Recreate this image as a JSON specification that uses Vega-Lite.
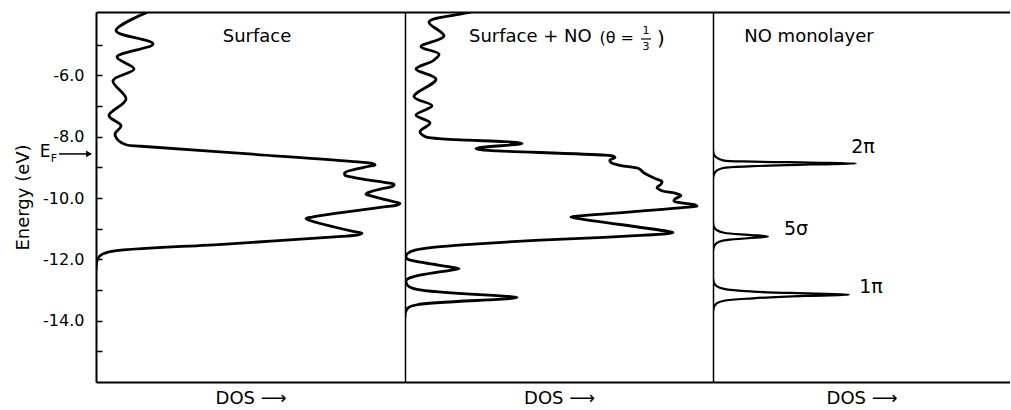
{
  "$schema": "https://vega.github.io/schema/vega-lite/v6.json",
  "padding": {"left": 14, "top": 12, "right": 0, "bottom": 0},
  "autosize": {"type": "pad"},
  "bounds": "flush",
  "spacing": 0,
  "background": "white",
  "config": {
    "view": {"stroke": null},
    "font": "DejaVu Sans",
    "axis": {"grid": false, "domainColor": "black", "tickColor": "black", "labelColor": "black", "titleColor": "black", "titleFontWeight": "normal"}
  },
  "datasets": {
    "surface": [
      {"dos": 52, "energy": -3.93}, {"dos": 20, "energy": -4.54}, {"dos": 57, "energy": -4.97}, {"dos": 21, "energy": -5.40},
      {"dos": 38, "energy": -5.79}, {"dos": 17, "energy": -6.17}, {"dos": 30, "energy": -6.77}, {"dos": 13, "energy": -7.31},
      {"dos": 25, "energy": -7.64}, {"dos": 19, "energy": -7.91}, {"dos": 23, "energy": -8.14}, {"dos": 30, "energy": -8.26},
      {"dos": 45, "energy": -8.31}, {"dos": 153, "energy": -8.56}, {"dos": 262, "energy": -8.82}, {"dos": 276, "energy": -8.87},
      {"dos": 279, "energy": -8.92}, {"dos": 272, "energy": -8.97}, {"dos": 258, "energy": -9.07}, {"dos": 249, "energy": -9.17},
      {"dos": 249, "energy": -9.25}, {"dos": 258, "energy": -9.33}, {"dos": 290, "energy": -9.50}, {"dos": 298, "energy": -9.55},
      {"dos": 297, "energy": -9.61}, {"dos": 288, "energy": -9.68}, {"dos": 274, "energy": -9.80}, {"dos": 270, "energy": -9.87},
      {"dos": 275, "energy": -9.93}, {"dos": 298, "energy": -10.12}, {"dos": 304, "energy": -10.18}, {"dos": 300, "energy": -10.24},
      {"dos": 290, "energy": -10.28}, {"dos": 216, "energy": -10.62}, {"dos": 210, "energy": -10.67}, {"dos": 214, "energy": -10.73},
      {"dos": 256, "energy": -11.08}, {"dos": 266, "energy": -11.15}, {"dos": 262, "energy": -11.20}, {"dos": 250, "energy": -11.24},
      {"dos": 130, "energy": -11.50}, {"dos": 12, "energy": -11.76}, {"dos": 4, "energy": -11.88}, {"dos": 1, "energy": -12.05},
      {"dos": 0, "energy": -12.35}
    ],
    "surfaceNO": [
      {"dos": 66, "energy": -3.93}, {"dos": 55, "energy": -4.00}, {"dos": 24, "energy": -4.26}, {"dos": 39, "energy": -4.71},
      {"dos": 16, "energy": -5.06}, {"dos": 34, "energy": -5.30}, {"dos": 28, "energy": -5.52}, {"dos": 11, "energy": -5.79},
      {"dos": 31, "energy": -6.12}, {"dos": 9, "energy": -6.69}, {"dos": 27, "energy": -6.99}, {"dos": 11, "energy": -7.29},
      {"dos": 25, "energy": -7.55}, {"dos": 15, "energy": -7.83}, {"dos": 20, "energy": -7.99}, {"dos": 34, "energy": -8.06},
      {"dos": 99, "energy": -8.16}, {"dos": 113, "energy": -8.19}, {"dos": 117, "energy": -8.22}, {"dos": 112, "energy": -8.25},
      {"dos": 76, "energy": -8.35}, {"dos": 71, "energy": -8.39}, {"dos": 77, "energy": -8.43}, {"dos": 92, "energy": -8.46},
      {"dos": 200, "energy": -8.60}, {"dos": 208, "energy": -8.63}, {"dos": 210, "energy": -8.68}, {"dos": 205, "energy": -8.76},
      {"dos": 206, "energy": -8.84}, {"dos": 216, "energy": -8.94}, {"dos": 234, "energy": -9.04}, {"dos": 239, "energy": -9.18},
      {"dos": 250, "energy": -9.36}, {"dos": 257, "energy": -9.46}, {"dos": 256, "energy": -9.55}, {"dos": 252, "energy": -9.66},
      {"dos": 257, "energy": -9.76}, {"dos": 270, "energy": -9.84}, {"dos": 276, "energy": -9.92}, {"dos": 270, "energy": -10.03},
      {"dos": 269, "energy": -10.10}, {"dos": 280, "energy": -10.17}, {"dos": 290, "energy": -10.22}, {"dos": 292, "energy": -10.26},
      {"dos": 286, "energy": -10.29}, {"dos": 172, "energy": -10.59}, {"dos": 166, "energy": -10.62}, {"dos": 172, "energy": -10.66},
      {"dos": 262, "energy": -11.08}, {"dos": 268, "energy": -11.12}, {"dos": 263, "energy": -11.16}, {"dos": 240, "energy": -11.21},
      {"dos": 199, "energy": -11.28}, {"dos": 130, "energy": -11.38}, {"dos": 69, "energy": -11.50}, {"dos": 30, "energy": -11.60},
      {"dos": 10, "energy": -11.70}, {"dos": 3, "energy": -11.80}, {"dos": 1, "energy": -11.88}, {"dos": 2, "energy": -11.98},
      {"dos": 10, "energy": -12.06}, {"dos": 48, "energy": -12.26}, {"dos": 54, "energy": -12.30}, {"dos": 48, "energy": -12.34},
      {"dos": 10, "energy": -12.55}, {"dos": 2, "energy": -12.65}, {"dos": 1, "energy": -12.74}, {"dos": 3, "energy": -12.86},
      {"dos": 12, "energy": -12.98}, {"dos": 104, "energy": -13.21}, {"dos": 112, "energy": -13.24}, {"dos": 104, "energy": -13.28},
      {"dos": 12, "energy": -13.48}, {"dos": 3, "energy": -13.58}, {"dos": 0.5, "energy": -13.72}, {"dos": 0, "energy": -13.90}
    ],
    "monolayer": [
      {"peak": "2pi", "dos": 0, "energy": -8.45}, {"peak": "2pi", "dos": 1, "energy": -8.58}, {"peak": "2pi", "dos": 4, "energy": -8.69},
      {"peak": "2pi", "dos": 10, "energy": -8.77}, {"peak": "2pi", "dos": 40, "energy": -8.81}, {"peak": "2pi", "dos": 97, "energy": -8.84},
      {"peak": "2pi", "dos": 143, "energy": -8.87}, {"peak": "2pi", "dos": 97, "energy": -8.905}, {"peak": "2pi", "dos": 40, "energy": -8.96},
      {"peak": "2pi", "dos": 10, "energy": -9.02}, {"peak": "2pi", "dos": 4, "energy": -9.10}, {"peak": "2pi", "dos": 1, "energy": -9.22},
      {"peak": "2pi", "dos": 0, "energy": -9.35},
      {"peak": "5sigma", "dos": 0, "energy": -10.80}, {"peak": "5sigma", "dos": 1, "energy": -10.94}, {"peak": "5sigma", "dos": 4, "energy": -11.05},
      {"peak": "5sigma", "dos": 11, "energy": -11.13}, {"peak": "5sigma", "dos": 35, "energy": -11.20}, {"peak": "5sigma", "dos": 55, "energy": -11.25},
      {"peak": "5sigma", "dos": 35, "energy": -11.31}, {"peak": "5sigma", "dos": 11, "energy": -11.38}, {"peak": "5sigma", "dos": 4, "energy": -11.46},
      {"peak": "5sigma", "dos": 1, "energy": -11.58}, {"peak": "5sigma", "dos": 0, "energy": -11.72},
      {"peak": "1pi", "dos": 0, "energy": -12.62}, {"peak": "1pi", "dos": 1, "energy": -12.77}, {"peak": "1pi", "dos": 4, "energy": -12.88},
      {"peak": "1pi", "dos": 11, "energy": -12.96}, {"peak": "1pi", "dos": 40, "energy": -13.05}, {"peak": "1pi", "dos": 95, "energy": -13.11},
      {"peak": "1pi", "dos": 136, "energy": -13.15}, {"peak": "1pi", "dos": 95, "energy": -13.19}, {"peak": "1pi", "dos": 40, "energy": -13.27},
      {"peak": "1pi", "dos": 11, "energy": -13.35}, {"peak": "1pi", "dos": 4, "energy": -13.43}, {"peak": "1pi", "dos": 1, "energy": -13.55},
      {"peak": "1pi", "dos": 0, "energy": -13.70}
    ]
  },
  "hconcat": [
    {
      "width": 309, "height": 370,
      "resolve": {"axis": {"x": "independent", "y": "independent"}},
      "layer": [
        {
          "data": {"name": "surface"},
          "mark": {"type": "line", "interpolate": "catmull-rom", "color": "black", "strokeWidth": 2.8, "clip": true},
          "encoding": {
            "x": {"field": "dos", "type": "quantitative", "scale": {"domain": [0, 309], "nice": false, "zero": false},
                  "axis": {"orient": "bottom", "ticks": false, "labels": false, "domainWidth": 2, "title": "DOS ⟶", "titleFontSize": 18, "titlePadding": 7}},
            "y": {"field": "energy", "type": "quantitative", "scale": {"domain": [-16, -3.93], "nice": false, "zero": false},
                  "axis": {"orient": "left", "values": [-15, -14, -13, -12, -11, -10, -9, -8, -7, -6, -5],
                           "tickSize": -6, "tickWidth": 1.5, "domainWidth": 2,
                           "labelExpr": "datum.value % 2 === 0 ? '-' + format(abs(datum.value), '.1f') : ''",
                           "labelFontSize": 16, "labelPadding": 18,
                           "title": "Energy (eV)", "titleFontSize": 18, "titlePadding": 10}},
            "order": {"field": "energy", "sort": "descending"}
          }
        },
        {
          "data": {"values": [{}]},
          "mark": {"type": "text", "text": "Surface", "fontSize": 18, "color": "black"},
          "encoding": {
            "x": {"datum": 161, "type": "quantitative", "scale": {"domain": [0, 309], "nice": false, "zero": false},
                  "axis": {"orient": "top", "ticks": false, "labels": false, "title": null, "domainWidth": 2}},
            "y": {"datum": -4.75, "type": "quantitative", "scale": {"domain": [-16, -3.93], "nice": false, "zero": false}, "axis": null}
          }
        },
        {
          "data": {"values": [{}]},
          "mark": {"type": "text", "text": "E", "fontSize": 17, "color": "black"},
          "encoding": {
            "x": {"datum": -51, "type": "quantitative", "scale": {"domain": [0, 309], "nice": false, "zero": false}, "axis": null},
            "y": {"datum": -8.51, "type": "quantitative", "scale": {"domain": [-16, -3.93], "nice": false, "zero": false}, "axis": null}
          }
        },
        {
          "data": {"values": [{}]},
          "mark": {"type": "text", "text": "F", "fontSize": 11, "color": "black"},
          "encoding": {
            "x": {"datum": -42, "type": "quantitative", "scale": {"domain": [0, 309], "nice": false, "zero": false}, "axis": null},
            "y": {"datum": -8.73, "type": "quantitative", "scale": {"domain": [-16, -3.93], "nice": false, "zero": false}, "axis": null}
          }
        },
        {
          "data": {"values": [{}]},
          "mark": {"type": "rule", "color": "black", "strokeWidth": 1.5},
          "encoding": {
            "x": {"datum": -37, "type": "quantitative", "scale": {"domain": [0, 309], "nice": false, "zero": false}, "axis": null},
            "x2": {"datum": -5},
            "y": {"datum": -8.56, "type": "quantitative", "scale": {"domain": [-16, -3.93], "nice": false, "zero": false}, "axis": null}
          }
        },
        {
          "data": {"values": [{}]},
          "mark": {"type": "point", "shape": "triangle-right", "filled": true, "color": "black", "size": 45, "opacity": 1},
          "encoding": {
            "x": {"datum": -7, "type": "quantitative", "scale": {"domain": [0, 309], "nice": false, "zero": false}, "axis": null},
            "y": {"datum": -8.56, "type": "quantitative", "scale": {"domain": [-16, -3.93], "nice": false, "zero": false}, "axis": null}
          }
        }
      ]
    },
    {
      "width": 308, "height": 370,
      "resolve": {"axis": {"x": "independent", "y": "independent"}},
      "layer": [
        {
          "data": {"name": "surfaceNO"},
          "mark": {"type": "line", "interpolate": "catmull-rom", "color": "black", "strokeWidth": 2.8, "clip": true},
          "encoding": {
            "x": {"field": "dos", "type": "quantitative", "scale": {"domain": [0, 308], "nice": false, "zero": false},
                  "axis": {"orient": "bottom", "ticks": false, "labels": false, "domainWidth": 2, "title": "DOS ⟶", "titleFontSize": 18, "titlePadding": 7}},
            "y": {"field": "energy", "type": "quantitative", "scale": {"domain": [-16, -3.93], "nice": false, "zero": false},
                  "axis": {"orient": "left", "ticks": false, "labels": false, "title": null, "domainWidth": 1.5}},
            "order": {"field": "energy", "sort": "descending"}
          }
        },
        {
          "data": {"values": [{}]},
          "mark": {"type": "text", "text": "Surface + NO", "fontSize": 18, "color": "black", "align": "left"},
          "encoding": {
            "x": {"datum": 64, "type": "quantitative", "scale": {"domain": [0, 308], "nice": false, "zero": false},
                  "axis": {"orient": "top", "ticks": false, "labels": false, "title": null, "domainWidth": 2}},
            "y": {"datum": -4.75, "type": "quantitative", "scale": {"domain": [-16, -3.93], "nice": false, "zero": false}, "axis": null}
          }
        },
        {
          "data": {"values": [{}]},
          "mark": {"type": "text", "text": "(θ =", "fontSize": 16, "color": "black", "align": "right"},
          "encoding": {
            "x": {"datum": 229, "type": "quantitative", "scale": {"domain": [0, 308], "nice": false, "zero": false}, "axis": null},
            "y": {"datum": -4.77, "type": "quantitative", "scale": {"domain": [-16, -3.93], "nice": false, "zero": false}, "axis": null}
          }
        },
        {
          "data": {"values": [{}]},
          "mark": {"type": "text", "text": "1", "fontSize": 11, "color": "black"},
          "encoding": {
            "x": {"datum": 241, "type": "quantitative", "scale": {"domain": [0, 308], "nice": false, "zero": false}, "axis": null},
            "y": {"datum": -4.55, "type": "quantitative", "scale": {"domain": [-16, -3.93], "nice": false, "zero": false}, "axis": null}
          }
        },
        {
          "data": {"values": [{}]},
          "mark": {"type": "rule", "color": "black", "strokeWidth": 1.2},
          "encoding": {
            "x": {"datum": 236, "type": "quantitative", "scale": {"domain": [0, 308], "nice": false, "zero": false}, "axis": null},
            "x2": {"datum": 246},
            "y": {"datum": -4.81, "type": "quantitative", "scale": {"domain": [-16, -3.93], "nice": false, "zero": false}, "axis": null}
          }
        },
        {
          "data": {"values": [{}]},
          "mark": {"type": "text", "text": "3", "fontSize": 11, "color": "black"},
          "encoding": {
            "x": {"datum": 241, "type": "quantitative", "scale": {"domain": [0, 308], "nice": false, "zero": false}, "axis": null},
            "y": {"datum": -5.07, "type": "quantitative", "scale": {"domain": [-16, -3.93], "nice": false, "zero": false}, "axis": null}
          }
        },
        {
          "data": {"values": [{}]},
          "mark": {"type": "text", "text": ")", "fontSize": 20, "color": "black"},
          "encoding": {
            "x": {"datum": 256, "type": "quantitative", "scale": {"domain": [0, 308], "nice": false, "zero": false}, "axis": null},
            "y": {"datum": -4.81, "type": "quantitative", "scale": {"domain": [-16, -3.93], "nice": false, "zero": false}, "axis": null}
          }
        }
      ]
    },
    {
      "width": 297, "height": 370,
      "resolve": {"axis": {"x": "independent", "y": "independent"}},
      "layer": [
        {
          "data": {"name": "monolayer"},
          "mark": {"type": "line", "interpolate": "catmull-rom", "color": "black", "strokeWidth": 2.2, "clip": true},
          "encoding": {
            "x": {"field": "dos", "type": "quantitative", "scale": {"domain": [0, 297], "nice": false, "zero": false},
                  "axis": {"orient": "bottom", "ticks": false, "labels": false, "domainWidth": 2, "title": "DOS ⟶", "titleFontSize": 18, "titlePadding": 7}},
            "y": {"field": "energy", "type": "quantitative", "scale": {"domain": [-16, -3.93], "nice": false, "zero": false},
                  "axis": {"orient": "left", "ticks": false, "labels": false, "title": null, "domainWidth": 1.5}},
            "detail": {"field": "peak", "type": "nominal"},
            "order": {"field": "energy", "sort": "descending"}
          }
        },
        {
          "data": {"values": [{}]},
          "mark": {"type": "text", "text": "NO monolayer", "fontSize": 18, "color": "black"},
          "encoding": {
            "x": {"datum": 96, "type": "quantitative", "scale": {"domain": [0, 297], "nice": false, "zero": false},
                  "axis": {"orient": "top", "ticks": false, "labels": false, "title": null, "domainWidth": 2}},
            "y": {"datum": -4.75, "type": "quantitative", "scale": {"domain": [-16, -3.93], "nice": false, "zero": false}, "axis": null}
          }
        },
        {
          "data": {"values": [{}]},
          "mark": {"type": "text", "text": "2π", "fontSize": 19, "color": "black"},
          "encoding": {
            "x": {"datum": 150, "type": "quantitative", "scale": {"domain": [0, 297], "nice": false, "zero": false}, "axis": null},
            "y": {"datum": -8.33, "type": "quantitative", "scale": {"domain": [-16, -3.93], "nice": false, "zero": false}, "axis": null}
          }
        },
        {
          "data": {"values": [{}]},
          "mark": {"type": "text", "text": "5σ", "fontSize": 19, "color": "black"},
          "encoding": {
            "x": {"datum": 83, "type": "quantitative", "scale": {"domain": [0, 297], "nice": false, "zero": false}, "axis": null},
            "y": {"datum": -11.01, "type": "quantitative", "scale": {"domain": [-16, -3.93], "nice": false, "zero": false}, "axis": null}
          }
        },
        {
          "data": {"values": [{}]},
          "mark": {"type": "text", "text": "1π", "fontSize": 19, "color": "black"},
          "encoding": {
            "x": {"datum": 158, "type": "quantitative", "scale": {"domain": [0, 297], "nice": false, "zero": false}, "axis": null},
            "y": {"datum": -12.90, "type": "quantitative", "scale": {"domain": [-16, -3.93], "nice": false, "zero": false}, "axis": null}
          }
        }
      ]
    }
  ]
}
